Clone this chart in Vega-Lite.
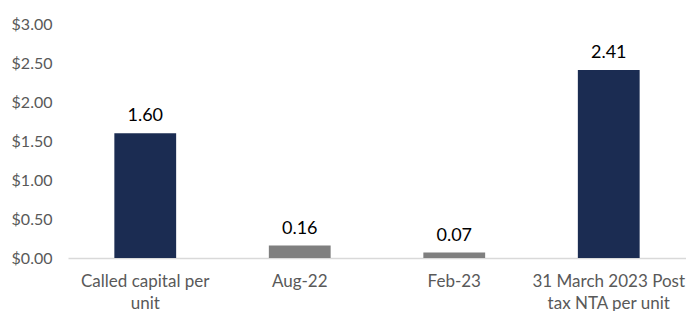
{
  "$schema": "https://vega.github.io/schema/vega-lite/v6.json",
  "width": 618,
  "height": 234,
  "autosize": {"type": "none"},
  "padding": {"left": 68, "top": 24, "right": 0, "bottom": 53},
  "background": "white",
  "config": {"view": {"stroke": null}, "font": "Lato"},
  "data": {
    "values": [
      {"category": "Called capital per unit", "value": 1.60, "type": "capital"},
      {"category": "Aug-22", "value": 0.16, "type": "distribution"},
      {"category": "Feb-23", "value": 0.07, "type": "distribution"},
      {"category": "31 March 2023 Post tax NTA per unit", "value": 2.41, "type": "capital"}
    ]
  },
  "encoding": {
    "x": {
      "field": "category",
      "type": "nominal",
      "sort": null,
      "scale": {"paddingInner": 0.6, "paddingOuter": 0.3},
      "axis": {
        "title": null,
        "labelAngle": 0,
        "labelFontSize": 17,
        "labelColor": "#595959",
        "labelPadding": 15,
        "labelLineHeight": 22,
        "labelLimit": 300,
        "ticks": false,
        "domainColor": "#d9d9d9",
        "domainWidth": 1.5,
        "labelExpr": "datum.label == 'Called capital per unit' ? ['Called capital per', 'unit'] : datum.label == '31 March 2023 Post tax NTA per unit' ? ['31 March 2023 Post', 'tax NTA per unit'] : datum.label"
      }
    },
    "y": {
      "field": "value",
      "type": "quantitative",
      "scale": {"domain": [0, 3]},
      "axis": {
        "title": null,
        "values": [0, 0.5, 1, 1.5, 2, 2.5, 3],
        "format": "$.2f",
        "labelFontSize": 16,
        "labelColor": "#595959",
        "labelPadding": 16,
        "domain": false,
        "ticks": false,
        "grid": false
      }
    }
  },
  "layer": [
    {
      "mark": {"type": "bar"},
      "encoding": {
        "color": {
          "field": "type",
          "type": "nominal",
          "scale": {"domain": ["capital", "distribution"], "range": ["#1b2c52", "#7f7f7f"]},
          "legend": null
        }
      }
    },
    {
      "mark": {"type": "text", "baseline": "bottom", "dy": -8, "fontSize": 18, "color": "#000000"},
      "encoding": {
        "text": {"field": "value", "type": "quantitative", "format": ".2f"}
      }
    }
  ]
}
